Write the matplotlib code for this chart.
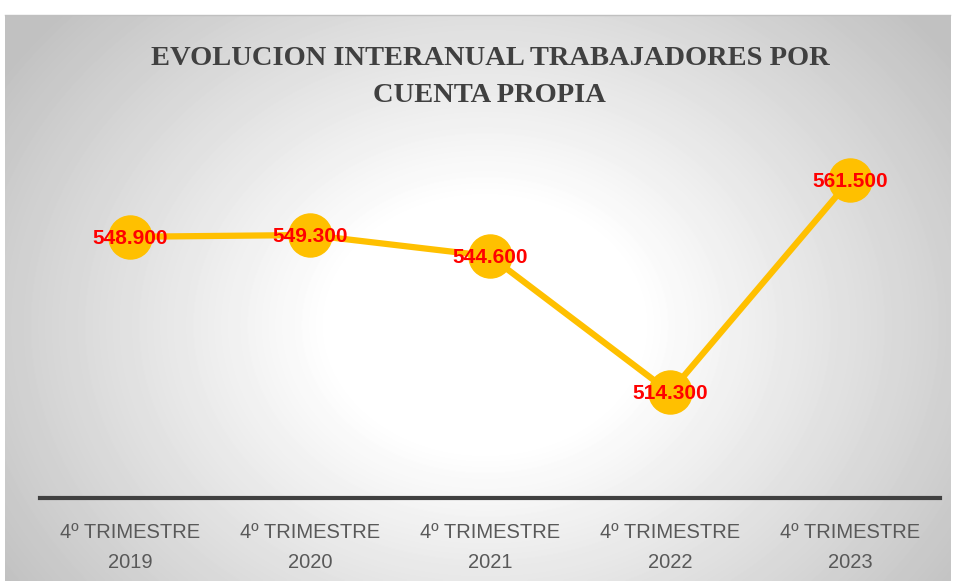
import numpy as np
import matplotlib.pyplot as plt

# data
categorias = ["4º TRIMESTRE\n2019", "4º TRIMESTRE\n2020", "4º TRIMESTRE\n2021",
              "4º TRIMESTRE\n2022", "4º TRIMESTRE\n2023"]
valores = [548.9, 549.3, 544.6, 514.3, 561.5]
etiquetas = ["548.900", "549.300", "544.600", "514.300", "561.500"]

fig = plt.figure(figsize=(9.55, 5.81), dpi=100)

# background with radial gradient
bg = fig.add_axes([0.005, 0, 0.99, 0.974])
yy, xx = np.mgrid[0:566, 0:946]
cx, cy = 480, 310
r = np.sqrt(((xx - cx) / 520.0) ** 2 + ((yy - cy) / 420.0) ** 2)
shade = np.clip(1.0 - 0.24 * np.clip(r - 0.3, 0, None) / 0.8, 0.76, 1.0)
bg.imshow(shade, cmap="gray", vmin=0, vmax=1, aspect="auto", interpolation="bilinear")
bg.set_axis_off()
fig.add_artist(plt.Line2D([0.005, 0.995], [0.974, 0.974], color="#c0c0c0", lw=1))

ax = fig.add_axes([40 / 955, 83 / 581, 900 / 955, 437 / 581])
ax.patch.set_alpha(0)
x = np.arange(len(valores))
ax.plot(x, valores, color="#FFC000", lw=4.5, marker="o", markersize=31,
        markerfacecolor="#FFC000", markeredgecolor="#FFC000", zorder=2)
for xi, v, t in zip(x, valores, etiquetas):
    ax.text(xi, v - 0.3, t, color="#FF0000", fontsize=15, fontweight="bold",
            family="Liberation Sans", ha="center", va="center", zorder=3)

ax.set_xlim(-0.5, 4.5)
ax.set_ylim(490.8, 588)
ax.set_yticks([])
for s in ["top", "right", "left"]:
    ax.spines[s].set_visible(False)
ax.spines["bottom"].set_color("#404040")
ax.spines["bottom"].set_linewidth(3)
ax.set_xticks(x)
ax.set_xticklabels(categorias, fontsize=14.5, color="#595959", family="Liberation Sans",
                   linespacing=1.75)
ax.tick_params(axis="x", length=0, pad=18)

fig.text(0.513, 0.868, "EVOLUCION INTERANUAL TRABAJADORES POR\nCUENTA PROPIA",
         ha="center", va="center", fontsize=20.5, fontweight="bold", color="#404040",
         family="Liberation Serif", linespacing=1.65)

fig.savefig("out.png", dpi=100)
